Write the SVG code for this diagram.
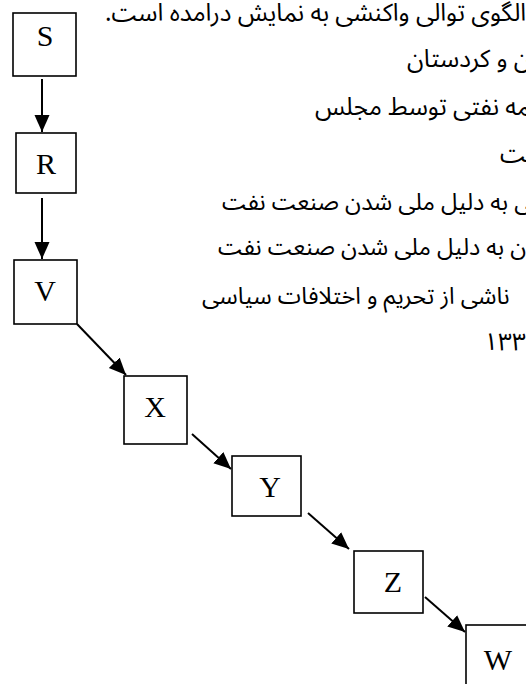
<svg xmlns="http://www.w3.org/2000/svg" width="526" height="684" viewBox="0 0 526 684">
  <style>
    .box { fill: #ffffff; stroke: #000000; stroke-width: 1.6; }
    .lbl { font-family: "Liberation Serif", "Times New Roman", serif; font-size: 30px; fill: #000000; text-anchor: middle; }
    .edge { stroke: #000000; stroke-width: 2; fill: none; marker-end: url(#head); }
    .fa { font-family: "Noto Sans Arabic", "DejaVu Sans", sans-serif; font-size: 24.5px; fill: #000000; direction: rtl; text-anchor: end; }
    .fa.sm { font-size: 23.5px; }
  </style>
  <defs>
    <marker id="head" markerUnits="userSpaceOnUse" markerWidth="18" markerHeight="16" refX="17" refY="7.5" orient="auto">
      <path d="M0,0 L17,7.5 L0,15 Z" fill="#000000"/>
    </marker>
  </defs>
  <rect width="526" height="684" fill="#ffffff"/>

  <!-- Persian paragraph, right-aligned and running past the right edge -->
  <g id="paragraph">
    <text class="fa" x="105" y="21">الگوی توالی واکنشی به نمایش درامده است.</text>
    <text class="fa" x="407" y="67">&#8205;ن و کردستان</text>
    <text class="fa" x="315" y="115">&#8205;مه نفتی توسط مجلس</text>
    <text class="fa" x="500" y="162">&#8205;ت</text>
    <text class="fa sm" x="222" y="210">&#8205;ی به دلیل ملی شدن صنعت نفت</text>
    <text class="fa sm" x="218" y="255">ران به دلیل ملی شدن صنعت نفت</text>
    <text class="fa sm" x="202" y="304">ناشی از تحریم و اختلافات سیاسی</text>
    <text class="fa" x="484" y="350">۱۳۳۲</text>
  </g>

  <!-- connectors -->
  <g id="connectors">
    <line class="edge" x1="42" y1="79" x2="42" y2="132"/>
    <line class="edge" x1="42" y1="198" x2="42" y2="259"/>
    <line class="edge" x1="77" y1="324" x2="126" y2="375"/>
    <line class="edge" x1="192" y1="434" x2="231" y2="469"/>
    <line class="edge" x1="308" y1="513" x2="349" y2="549"/>
    <line class="edge" x1="425" y1="597" x2="465" y2="632"/>
  </g>

  <!-- nodes -->
  <g id="node-S">
    <rect class="box" x="13" y="13" width="63" height="63"/>
    <text class="lbl" x="45" y="46">S</text>
  </g>
  <g id="node-R">
    <rect class="box" x="16" y="133" width="60" height="60"/>
    <text class="lbl" x="46" y="174">R</text>
  </g>
  <g id="node-V">
    <rect class="box" x="14" y="260" width="63" height="64"/>
    <text class="lbl" x="45" y="301">V</text>
  </g>
  <g id="node-X">
    <rect class="box" x="124" y="376" width="63" height="68"/>
    <text class="lbl" x="155" y="417">X</text>
  </g>
  <g id="node-Y">
    <rect class="box" x="232" y="456" width="69" height="60"/>
    <text class="lbl" x="270" y="497">Y</text>
  </g>
  <g id="node-Z">
    <rect class="box" x="354" y="551" width="69" height="62"/>
    <text class="lbl" x="393" y="592">Z</text>
  </g>
  <g id="node-W">
    <rect class="box" x="466" y="625" width="70" height="64"/>
    <text class="lbl" x="498" y="670">W</text>
  </g>
</svg>
